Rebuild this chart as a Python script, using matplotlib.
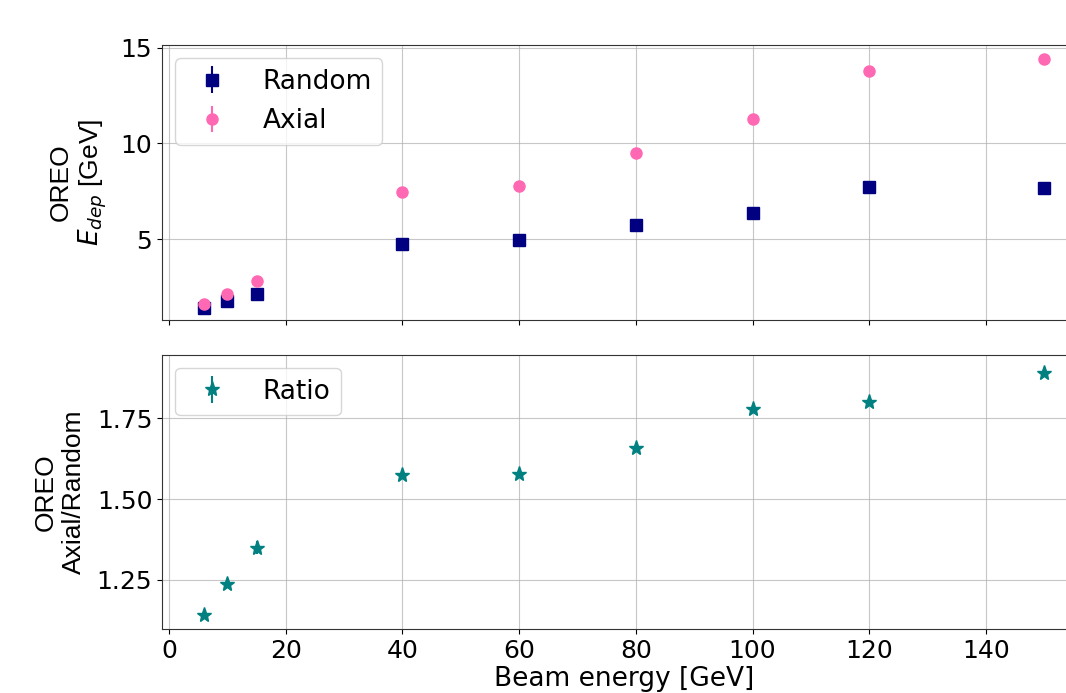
import numpy as np
import matplotlib
matplotlib.use('Agg')
import matplotlib.pyplot as plt

# Beam energies and OREO energy deposits
beam_energy = [6, 10, 15, 40, 60, 80, 100, 120, 150]
edep_random = [1.41, 1.76, 2.11, 4.75, 4.95, 5.73, 6.37, 7.72, 7.68]
edep_axial = [1.60, 2.14, 2.82, 7.44, 7.77, 9.48, 11.29, 13.80, 14.42]
err_random = [0.04, 0.05, 0.05, 0.08, 0.08, 0.08, 0.09, 0.10, 0.10]
err_axial = [0.05, 0.06, 0.07, 0.10, 0.10, 0.11, 0.12, 0.14, 0.15]
ratio = [1.14, 1.237, 1.349, 1.574, 1.576, 1.657, 1.779, 1.799, 1.890]
err_ratio = [0.010, 0.012, 0.020, 0.010, 0.010, 0.010, 0.010, 0.010, 0.012]

fig = plt.figure(figsize=(10.66, 6.93), dpi=100)
ax1 = fig.add_axes([0.152, 0.538, 0.867, 0.397])
ax2 = fig.add_axes([0.152, 0.092, 0.867, 0.396], sharex=ax1)

label_font = dict(fontsize=19, family=['Liberation Sans', 'DejaVu Sans'])

# Top panel: deposited energy
ax1.errorbar(beam_energy, edep_random, yerr=err_random, fmt='s', color='navy',
             markersize=9, label='Random')
ax1.errorbar(beam_energy, edep_axial, yerr=err_axial, fmt='o', color='hotpink',
             markersize=8, label='Axial')
ax1.set_ylim(0.76, 15.14)
ax1.set_yticks([5, 10, 15])
ax1.set_ylabel('OREO\n$E_{dep}$ [GeV]', labelpad=8, **label_font)
ax1.grid(True, color='#b0b0b0', alpha=0.7)
ax1.legend(loc='upper left', fontsize=19, handletextpad=0.9)
ax1.tick_params(labelsize=18, labelbottom=False)

# Bottom panel: ratio
ax2.errorbar(beam_energy, ratio, yerr=err_ratio, fmt='*', color='teal',
             markersize=11, label='Ratio')
ax2.set_ylim(1.0975, 1.946)
ax2.set_yticks([1.25, 1.50, 1.75])
ax2.set_xlim(-1.2, 157.2)
ax2.set_xticks([0, 20, 40, 60, 80, 100, 120, 140])
ax2.set_ylabel('OREO\nAxial/Random', labelpad=8, **label_font)
ax2.set_xlabel('Beam energy [GeV]', fontsize=19, labelpad=2)
ax2.grid(True, color='#b0b0b0', alpha=0.7)
ax2.legend(loc='upper left', fontsize=19, handletextpad=0.9)
ax2.tick_params(labelsize=18)

for ax in (ax1, ax2):
    for s in ax.spines.values():
        s.set_color('#333333')

fig.savefig('out.png', dpi=100)
